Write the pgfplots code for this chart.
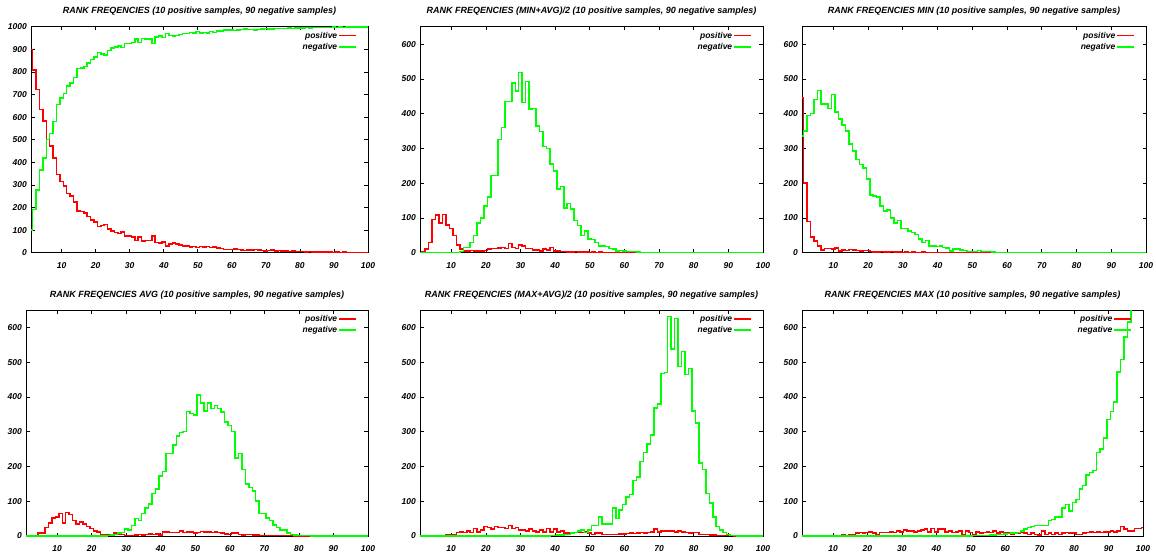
\documentclass[border=0pt]{standalone}
\usepackage{fontspec}
\setmainfont{Liberation Sans}
\usepackage{pgfplots}
\usepackage{pgfplotstable}
\pgfplotsset{compat=1.18}
\definecolor{gpred}{RGB}{255,0,0}
\definecolor{gpgreen}{RGB}{0,255,0}
\newcommand{\gpfont}{\fontsize{8.5}{10}\selectfont\bfseries\itshape}
\newcommand{\gptitlefont}{\fontsize{9}{10}\selectfont\bfseries\itshape}

% k = rank, pos / neg = frequencies
\pgfplotstableread[row sep=\\]{
k pos neg\\
1 900 100\\ 2 808 192\\ 3 722 278\\ 4 634 366\\ 5 582 418\\ 6 500 500\\ 7 472 528\\ 8 420 580\\ 9 345 655\\ 10 315 685\\
11 295 705\\ 12 262 738\\ 13 250 750\\ 14 225 775\\ 15 185 815\\ 16 183 817\\ 17 175 825\\ 18 160 840\\ 19 145 855\\ 20 135 865\\
21 115 885\\ 22 120 880\\ 23 125 875\\ 24 105 895\\ 25 95 905\\ 26 90 910\\ 27 85 915\\ 28 92 908\\ 29 75 925\\ 30 75 925\\
31 70 930\\ 32 55 945\\ 33 70 930\\ 34 52 948\\ 35 55 945\\ 36 55 945\\ 37 75 925\\ 38 45 955\\ 39 42 958\\ 40 48 952\\
41 30 970\\ 42 38 962\\ 43 42 958\\ 44 38 962\\ 45 35 965\\ 46 30 970\\ 47 30 970\\ 48 25 975\\ 49 28 972\\ 50 22 978\\
51 28 972\\ 52 25 975\\ 53 28 972\\ 54 22 978\\ 55 25 975\\ 56 20 980\\ 57 18 982\\ 58 15 985\\ 59 15 985\\ 60 14 986\\
61 16 984\\ 62 15 985\\ 63 12 988\\ 64 10 990\\ 65 13 987\\ 66 12 988\\ 67 14 986\\ 68 13 987\\ 69 10 990\\ 70 8 992\\
71 10 990\\ 72 11 989\\ 73 8 992\\ 74 9 991\\ 75 7 993\\ 76 8 992\\ 77 6 994\\ 78 8 992\\ 79 5 995\\ 80 5 995\\
81 6 994\\ 82 4 996\\ 83 5 995\\ 84 4 996\\ 85 4 996\\ 86 3 997\\ 87 4 996\\ 88 3 997\\ 89 3 997\\ 90 2 998\\
91 3 997\\ 92 2 998\\ 93 3 997\\ 94 2 998\\ 95 2 998\\ 96 2 998\\ 97 1 999\\ 98 2 998\\ 99 1 999\\ 100 1 999\\
}\tabRank

\pgfplotstableread[row sep=\\]{
k pos neg\\
1 0 0\\ 2 2 0\\ 3 10 0\\ 4 30 0\\ 5 95 0\\ 6 108 0\\ 7 85 0\\ 8 110 0\\ 9 80 0\\ 10 70 0\\
11 50 0\\ 12 22 0\\ 13 10 3\\ 14 5 15\\ 15 5 15\\ 16 7 30\\ 17 5 50\\ 18 5 85\\ 19 5 100\\ 20 7 135\\
21 10 160\\ 22 12 222\\ 23 12 222\\ 24 13 325\\ 25 15 360\\ 26 12 435\\ 27 27 435\\ 28 15 488\\ 29 12 465\\ 30 22 518\\
31 20 432\\ 32 12 493\\ 33 12 413\\ 34 8 415\\ 35 8 365\\ 36 5 348\\ 37 10 305\\ 38 8 300\\ 39 15 255\\ 40 5 235\\
41 5 183\\ 42 3 190\\ 43 3 128\\ 44 2 142\\ 45 2 125\\ 46 3 92\\ 47 2 78\\ 48 2 50\\ 49 2 62\\ 50 1 40\\
51 2 38\\ 52 1 30\\ 53 2 20\\ 54 1 20\\ 55 1 18\\ 56 1 12\\ 57 1 10\\ 58 1 5\\ 59 1 7\\ 60 1 5\\
61 1 4\\ 62 0 3\\ 63 1 3\\ 64 0 2\\ 65 0 1\\ 66 1 1\\ 67 0 1\\ 68 0 0\\ 69 0 0\\ 70 0 0\\
71 0 0\\ 72 0 0\\ 73 0 0\\ 74 0 0\\ 75 0 0\\ 76 0 0\\ 77 0 0\\ 78 0 0\\ 79 0 0\\ 80 0 0\\
81 0 0\\ 82 0 0\\ 83 0 0\\ 84 0 0\\ 85 0 0\\ 86 0 0\\ 87 0 0\\ 88 0 0\\ 89 0 0\\ 90 0 0\\
91 0 0\\ 92 0 0\\ 93 0 0\\ 94 0 0\\ 95 0 0\\ 96 0 0\\ 97 0 0\\ 98 0 0\\ 99 0 0\\ 100 0 0\\
}\tabMinAvg

\pgfplotstableread[row sep=\\]{
k pos neg\\
1 445 335\\ 2 200 350\\ 3 90 395\\ 4 45 400\\ 5 33 440\\ 6 20 467\\ 7 8 427\\ 8 12 428\\ 9 12 415\\ 10 10 455\\
11 13 405\\ 12 5 385\\ 13 8 368\\ 14 7 350\\ 15 9 312\\ 16 8 293\\ 17 7 268\\ 18 5 253\\ 19 7 243\\ 20 6 212\\
21 4 166\\ 22 2 163\\ 23 2 160\\ 24 3 135\\ 25 2 120\\ 26 2 123\\ 27 3 100\\ 28 2 85\\ 29 2 92\\ 30 1 70\\
31 2 70\\ 32 1 62\\ 33 2 58\\ 34 1 52\\ 35 1 40\\ 36 2 30\\ 37 1 35\\ 38 1 20\\ 39 1 20\\ 40 1 18\\
41 1 20\\ 42 1 15\\ 43 0 13\\ 44 1 5\\ 45 1 10\\ 46 0 10\\ 47 1 8\\ 48 0 6\\ 49 1 4\\ 50 0 3\\
51 1 3\\ 52 0 6\\ 53 0 3\\ 54 1 3\\ 55 0 3\\ 56 1 2\\ 57 0 1\\ 58 0 1\\ 59 0 0\\ 60 0 0\\
61 0 0\\ 62 0 0\\ 63 0 0\\ 64 0 0\\ 65 0 0\\ 66 0 0\\ 67 0 0\\ 68 0 0\\ 69 0 0\\ 70 0 0\\
71 0 0\\ 72 0 0\\ 73 0 0\\ 74 0 0\\ 75 0 0\\ 76 0 0\\ 77 0 0\\ 78 0 0\\ 79 0 0\\ 80 0 0\\
81 0 0\\ 82 0 0\\ 83 0 0\\ 84 0 0\\ 85 0 0\\ 86 0 0\\ 87 0 0\\ 88 0 0\\ 89 0 0\\ 90 0 0\\
91 0 0\\ 92 0 0\\ 93 0 0\\ 94 0 0\\ 95 0 0\\ 96 0 0\\ 97 0 0\\ 98 0 0\\ 99 0 0\\ 100 0 0\\
}\tabMin

\pgfplotstableread[row sep=\\]{
k pos neg\\
1 0 0\\ 2 0 0\\ 3 0 0\\ 4 2 0\\ 5 8 0\\ 6 8 0\\ 7 25 0\\ 8 38 0\\ 9 52 0\\ 10 55 0\\
11 65 0\\ 12 38 0\\ 13 68 0\\ 14 62 0\\ 15 45 0\\ 16 35 0\\ 17 40 0\\ 18 35 0\\ 19 28 0\\ 20 22 0\\
21 15 0\\ 22 12 0\\ 23 5 0\\ 24 5 0\\ 25 5 2\\ 26 3 3\\ 27 8 5\\ 28 5 8\\ 29 4 10\\ 30 2 20\\
31 2 18\\ 32 2 30\\ 33 3 50\\ 34 5 45\\ 35 3 65\\ 36 4 80\\ 37 6 92\\ 38 5 122\\ 39 6 135\\ 40 3 172\\
41 12 185\\ 42 12 237\\ 43 10 237\\ 44 10 262\\ 45 10 288\\ 46 15 298\\ 47 10 300\\ 48 12 358\\ 49 12 352\\ 50 8 348\\
51 10 405\\ 52 13 383\\ 53 12 360\\ 54 12 383\\ 55 10 367\\ 56 12 375\\ 57 10 367\\ 58 8 357\\ 59 6 328\\ 60 4 318\\
61 9 300\\ 62 8 225\\ 63 5 238\\ 64 3 192\\ 65 4 150\\ 66 4 140\\ 67 3 130\\ 68 3 100\\ 69 2 65\\ 70 2 65\\
71 2 52\\ 72 1 45\\ 73 2 32\\ 74 1 25\\ 75 1 18\\ 76 1 18\\ 77 1 8\\ 78 1 5\\ 79 0 3\\ 80 0 2\\
81 0 2\\ 82 0 1\\ 83 0 1\\ 84 0 0\\ 85 0 0\\ 86 0 0\\ 87 0 0\\ 88 0 0\\ 89 0 0\\ 90 0 0\\
91 0 0\\ 92 0 0\\ 93 0 0\\ 94 0 0\\ 95 0 0\\ 96 0 0\\ 97 0 0\\ 98 0 0\\ 99 0 0\\ 100 0 0\\
}\tabAvg

\pgfplotstableread[row sep=\\]{
k pos neg\\
1 0 0\\ 2 0 0\\ 3 0 0\\ 4 0 0\\ 5 0 0\\ 6 0 0\\ 7 0 0\\ 8 0 0\\ 9 5 0\\ 10 3 0\\
11 5 0\\ 12 10 0\\ 13 12 0\\ 14 10 0\\ 15 15 0\\ 16 10 0\\ 17 22 0\\ 18 12 0\\ 19 18 0\\ 20 28 0\\
21 25 0\\ 22 20 0\\ 23 28 0\\ 24 25 0\\ 25 25 0\\ 26 22 0\\ 27 30 0\\ 28 22 0\\ 29 25 0\\ 30 18 0\\
31 18 0\\ 32 15 0\\ 33 20 0\\ 34 15 0\\ 35 12 0\\ 36 18 0\\ 37 12 0\\ 38 22 0\\ 39 12 2\\ 40 20 2\\
41 12 3\\ 42 15 3\\ 43 8 5\\ 44 8 5\\ 45 10 8\\ 46 10 10\\ 47 12 15\\ 48 10 18\\ 49 12 10\\ 50 8 18\\
51 5 30\\ 52 8 30\\ 53 8 55\\ 54 5 35\\ 55 5 35\\ 56 5 35\\ 57 5 80\\ 58 5 50\\ 59 6 75\\ 60 6 90\\
61 7 112\\ 62 8 120\\ 63 7 160\\ 64 8 170\\ 65 10 215\\ 66 8 240\\ 67 10 265\\ 68 12 290\\ 69 20 368\\ 70 12 380\\
71 15 468\\ 72 15 470\\ 73 15 632\\ 74 15 538\\ 75 12 625\\ 76 15 488\\ 77 12 530\\ 78 10 465\\ 79 8 482\\ 80 10 360\\
81 10 325\\ 82 5 210\\ 83 5 192\\ 84 4 122\\ 85 3 95\\ 86 3 55\\ 87 2 28\\ 88 2 18\\ 89 2 10\\ 90 1 5\\
91 1 2\\ 92 0 1\\ 93 0 0\\ 94 0 0\\ 95 0 0\\ 96 0 0\\ 97 0 0\\ 98 0 0\\ 99 0 0\\ 100 0 0\\
}\tabMaxAvg

\pgfplotstableread[row sep=\\]{
k pos neg\\
1 0 0\\ 2 0 0\\ 3 0 0\\ 4 0 0\\ 5 0 0\\ 6 0 0\\ 7 0 0\\ 8 0 0\\ 9 0 0\\ 10 0 0\\
11 1 0\\ 12 2 0\\ 13 3 0\\ 14 2 0\\ 15 3 0\\ 16 5 0\\ 17 8 0\\ 18 10 0\\ 19 8 0\\ 20 10 0\\
21 12 0\\ 22 8 0\\ 23 5 0\\ 24 10 0\\ 25 10 0\\ 26 10 0\\ 27 12 0\\ 28 10 0\\ 29 15 0\\ 30 12 0\\
31 18 0\\ 32 15 0\\ 33 15 0\\ 34 12 0\\ 35 15 0\\ 36 18 0\\ 37 20 0\\ 38 12 0\\ 39 22 0\\ 40 12 0\\
41 20 0\\ 42 20 0\\ 43 12 0\\ 44 15 0\\ 45 10 0\\ 46 12 0\\ 47 15 0\\ 48 5 0\\ 49 15 0\\ 50 10 0\\
51 5 1\\ 52 12 1\\ 53 8 2\\ 54 10 2\\ 55 12 2\\ 56 10 3\\ 57 15 3\\ 58 8 4\\ 59 12 5\\ 60 8 6\\
61 10 7\\ 62 5 8\\ 63 10 9\\ 64 8 10\\ 65 10 15\\ 66 8 20\\ 67 5 25\\ 68 8 28\\ 69 5 30\\ 70 3 30\\
71 15 30\\ 72 5 30\\ 73 8 45\\ 74 5 48\\ 75 8 55\\ 76 5 55\\ 77 8 80\\ 78 10 90\\ 79 8 72\\ 80 8 97\\
81 5 105\\ 82 5 135\\ 83 8 145\\ 84 10 175\\ 85 12 183\\ 86 10 188\\ 87 12 240\\ 88 10 250\\ 89 12 282\\ 90 12 335\\
91 15 358\\ 92 12 385\\ 93 15 472\\ 94 28 508\\ 95 20 572\\ 96 15 615\\ 97 15 700\\ 98 22 760\\ 99 22 830\\ 100 25 900\\
}\tabMax

\pgfplotsset{
  rf/.style={
    scale only axis, height=226pt, anchor=south west,
    xmin=1, xmax=100, ymin=0, ymax=650,
    xtick={10,20,...,100}, ytick={0,100,...,600},
    axis line style={line width=0.7pt},
    tick align=inside, major tick length=3.5pt,
    tick style={line width=0.6pt, black},
    /pgf/number format/assume math mode=true,
    /pgf/number format/1000 sep={},
    ticklabel style={font=\gpfont},
    xticklabel style={anchor=base, yshift=-15.5pt},
    yticklabel style={anchor=east, inner sep=0pt, xshift=-4pt},
    title style={at={(0.5,1)}, anchor=base, yshift=7pt, font=\gptitlefont},
    legend style={at={(1,1)}, anchor=north east, xshift=-11pt, yshift=-4pt,
      draw=none, fill=none, inner sep=0pt, row sep=1.5pt, font=\gpfont,
      nodes={inner sep=1pt}},
    legend plot pos=right,
    legend cell align=right,
  },
}

\begin{document}
\begin{tikzpicture}
\path[use as bounding box] (0pt,0pt) rectangle (1156pt,-557pt);

\begin{axis}[rf, at={(31pt,-252.7pt)}, width=337pt, ymax=1000, ytick={0,100,...,1000},
  title={RANK FREQENCIES (10 positive samples, 90 negative samples)}]
\addplot[draw=gpred, line width=1.5pt, const plot mark mid, mark=none] table[x=k, y=pos] {\tabRank};
\addlegendentry{positive}
\addplot[draw=gpgreen, line width=1.5pt, const plot mark mid, mark=none] table[x=k, y=neg] {\tabRank};
\addlegendentry{negative}
\end{axis}

\begin{axis}[rf, at={(420pt,-252.7pt)}, width=343pt,
  title={RANK FREQENCIES (MIN+AVG)/2 (10 positive samples, 90 negative samples)}]
\addplot[draw=gpred, line width=1.5pt, const plot mark mid, mark=none] table[x=k, y=pos] {\tabMinAvg};
\addlegendentry{positive}
\addplot[draw=gpgreen, line width=1.5pt, const plot mark mid, mark=none] table[x=k, y=neg] {\tabMinAvg};
\addlegendentry{negative}
\end{axis}

\begin{axis}[rf, at={(802pt,-252.7pt)}, width=344pt,
  title={RANK FREQENCIES MIN (10 positive samples, 90 negative samples)}]
\addplot[draw=gpred, line width=1.5pt, const plot mark mid, mark=none] table[x=k, y=pos] {\tabMin};
\addlegendentry{positive}
\addplot[draw=gpgreen, line width=1.5pt, const plot mark mid, mark=none] table[x=k, y=neg] {\tabMin};
\addlegendentry{negative}
\end{axis}

\begin{axis}[rf, at={(26pt,-536pt)}, width=342pt,
  title={RANK FREQENCIES AVG (10 positive samples, 90 negative samples)}]
\addplot[draw=gpred, line width=1.5pt, const plot mark mid, mark=none] table[x=k, y=pos] {\tabAvg};
\addlegendentry{positive}
\addplot[draw=gpgreen, line width=1.5pt, const plot mark mid, mark=none] table[x=k, y=neg] {\tabAvg};
\addlegendentry{negative}
\end{axis}

\begin{axis}[rf, at={(420pt,-536pt)}, width=343pt,
  title={RANK FREQENCIES (MAX+AVG)/2 (10 positive samples, 90 negative samples)}]
\addplot[draw=gpred, line width=1.5pt, const plot mark mid, mark=none] table[x=k, y=pos] {\tabMaxAvg};
\addlegendentry{positive}
\addplot[draw=gpgreen, line width=1.5pt, const plot mark mid, mark=none] table[x=k, y=neg] {\tabMaxAvg};
\addlegendentry{negative}
\end{axis}

\begin{axis}[rf, at={(802pt,-536pt)}, width=341pt,
  title={RANK FREQENCIES MAX (10 positive samples, 90 negative samples)}]
\addplot[draw=gpred, line width=1.5pt, const plot mark mid, mark=none] table[x=k, y=pos] {\tabMax};
\addlegendentry{positive}
\addplot[draw=gpgreen, line width=1.5pt, const plot mark mid, mark=none] table[x=k, y=neg] {\tabMax};
\addlegendentry{negative}
\end{axis}
\end{tikzpicture}
\end{document}
